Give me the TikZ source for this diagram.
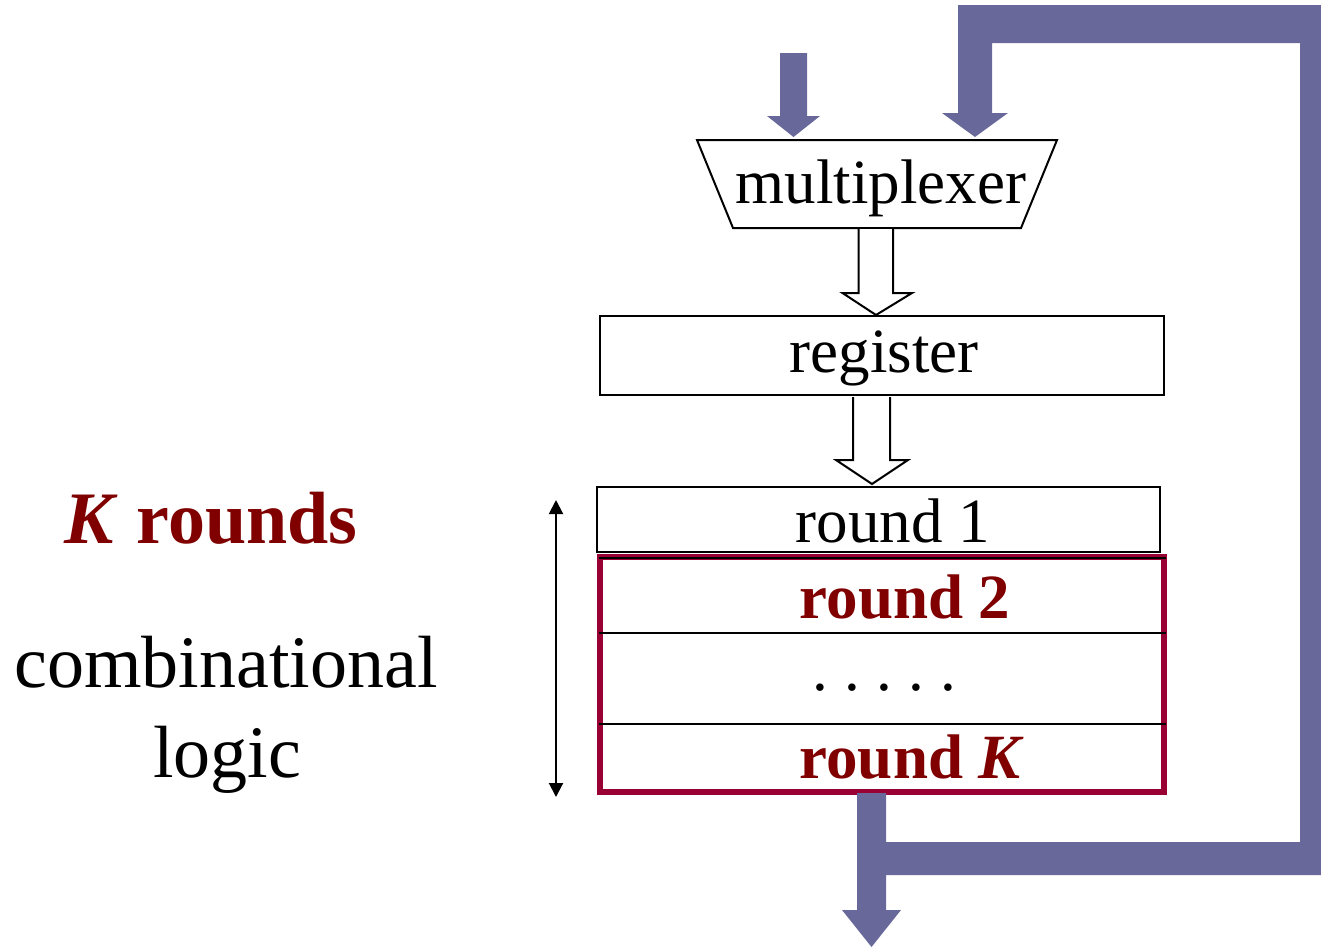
\documentclass[tikz,border=0pt]{standalone}
\usepackage{fontspec}
\setmainfont{Liberation Serif}
\usetikzlibrary{arrows.meta,calc}
\definecolor{flowblue}{RGB}{104,104,154}
\definecolor{framered}{RGB}{153,0,51}
\definecolor{textred}{RGB}{128,0,0}
\tikzset{
  thin line/.style={draw=black, line width=1pt},
  boxstyle/.style={thin line, fill=white},
  hollow/.style={thin line, fill=white, line join=miter},
  flow/.style={fill=flowblue, draw=none},
  lbl/.style={inner sep=0pt, anchor=base, font=\fontsize{31.5}{36}\selectfont},
  side/.style={inner sep=0pt, anchor=base, font=\fontsize{37}{42}\selectfont},
}
\newcommand{\dotgap}{\hspace{8.1pt}}
\begin{document}
\begin{tikzpicture}[x=0.5pt,y=-0.5pt]
\useasboundingbox (0,0) rectangle (1321,948);

% --- key points of the blocks ---
\coordinate (muxNW) at (697,140);
\coordinate (muxNE) at (1057,140);
\coordinate (muxSE) at (1021,228);
\coordinate (muxSW) at (733,228);

% multiplexer (trapezoid)
\draw[thin line, fill=white] (muxNW) -- (muxNE) -- (muxSE) -- (muxSW) -- cycle;
\node[lbl] (mux) at (881,203) {multiplexer};

% register
\draw[boxstyle] (600,316) rectangle (1164,395);
\coordinate (regN) at (876,315);
\coordinate (regS) at (871.5,397);
\node[lbl] (reg) at (884,372) {register};

% round 1
\draw[boxstyle] (597,487) rectangle (1160,552);
\coordinate (r1N) at (872,484);
\node[lbl] (r1) at (893,542) {round 1};

% rounds 2 .. K inside the red frame
\draw[draw=framered, line width=3pt, fill=white] (600,557) rectangle (1164,792);
\draw[thin line] (599,558) -- (1166,558);
\draw[thin line] (599,633) -- (1166,633);
\draw[thin line] (599,724) -- (1166,724);
\node[lbl, text=textred, font=\fontsize{31.5}{36}\selectfont\bfseries] (r2) at (905,618) {round 2};
\node[lbl] (dots) at (884,690) {.\dotgap.\dotgap.\dotgap.\dotgap.};
\node[lbl, text=textred, font=\fontsize{31.5}{36}\selectfont\bfseries] (rK) at (912,778) {round \textit{K}};

% hollow arrows between the blocks (open at the top)
\draw[hollow] ($(muxSW)!0.5!(muxSE)+(-18.5,1)$) -- ++(0,64) -- ++(-16,0)
  -- (regN) -- ++(36,-22) -- ++(-19,0) -- ++(0,-64);
\draw[hollow] ($(regS)+(-18.5,0)$) -- ++(0,63) -- ++(-17,0)
  -- (r1N) -- ($(r1N)+(36,-24)$) -- ++(-18,0) -- ++(0,-63);

% span of the combinational rounds
\coordinate (spanT) at (556,500);
\coordinate (spanB) at (556,797);
\draw[line width=1pt, {Triangle[length=7pt,width=7pt]}-{Triangle[length=7pt,width=7pt]}] (spanT) -- (spanB);

% input arrow into the multiplexer
\fill[flow] (780,53) -- (807,53) -- (807,116) -- (820,116) -- (793.5,137)
  -- (767,116) -- (780,116) -- cycle;

% output arrow with the feedback loop
\fill[flow] (857,793) -- (886,793) -- (886,842) -- (1300,842) -- (1300,43)
  -- (992,43) -- (992,113) -- (1008,113) -- (975,137) -- (942,113)
  -- (958,113) -- (958,5) -- (1321,5) -- (1321,875) -- (886,875)
  -- (886,910) -- (901,910) -- (871.5,947) -- (842,910) -- (857,910) -- cycle;

% side labels
\node[side, text=textred, font=\fontsize{37}{42}\selectfont\bfseries] (krounds) at (211,543) {\textit{K} rounds};
\node[side] (comb) at (226,687) {combinational};
\node[side] (logic) at (227,777) {logic};
\end{tikzpicture}
\end{document}
